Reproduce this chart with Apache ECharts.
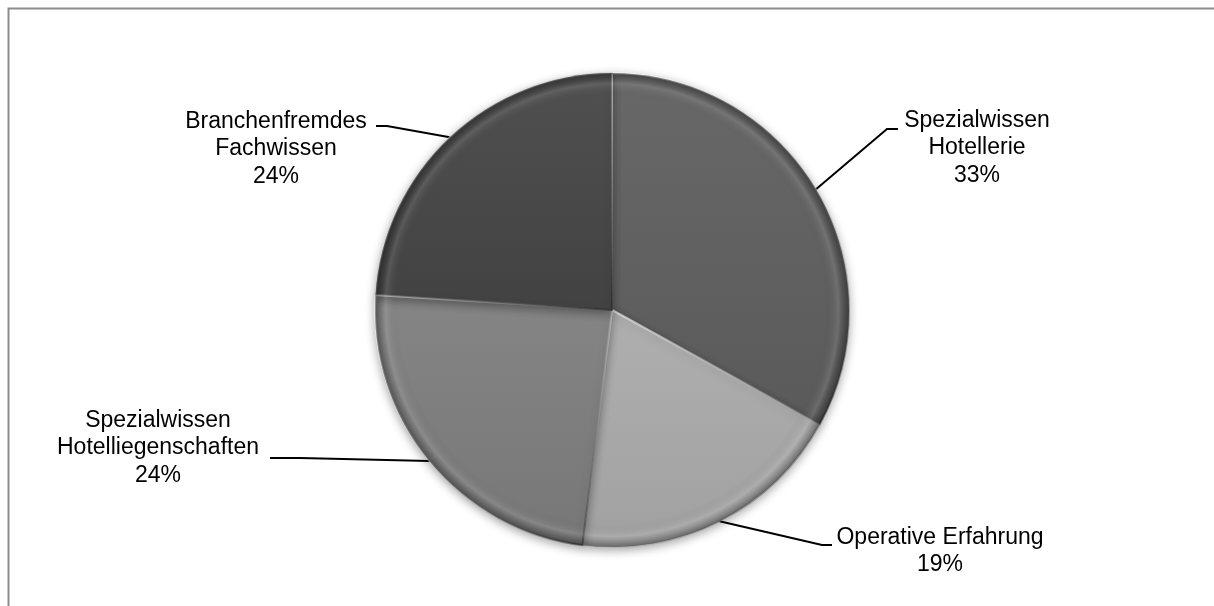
<!DOCTYPE html>
<html>
<head>
<meta charset="utf-8">
<script src="https://cdn.jsdelivr.net/npm/echarts@6/dist/echarts.min.js"></script>
<style>
  html, body { margin: 0; padding: 0; background: #ffffff; }
  #chart { width: 1214px; height: 606px; }
</style>
</head>
<body>
<div id="chart"></div>
<script>
// Slice names (label lines) and shares in percent, clockwise from 12 o'clock
const categories = [
  'Spezialwissen\nHotellerie',
  'Operative Erfahrung',
  'Spezialwissen\nHotelliegenschaften',
  'Branchenfremdes\nFachwissen'
];
const shares = [33, 19, 24, 24];
const sliceColors = ['#626262', '#a9a9a9', '#7f7f7f', '#4a4a4a'];

// Where each label block sits and how its leader line bends
const labelSpots = [
  { x: 977, y: 148, elbow: [887, 129], end: [898, 129] },
  { x: 940, y: 551, elbow: [822, 545], end: [832, 545] },
  { x: 158, y: 448, elbow: [300, 458], end: [270, 458] },
  { x: 276, y: 149, elbow: [387, 126], end: [376, 126] }
];

const CENTER = [612, 310];
const RADIUS = 237;

function shade(hex, amt) {
  const n = parseInt(hex.slice(1), 16);
  const c = [(n >> 16) & 255, (n >> 8) & 255, n & 255].map(v => Math.max(0, Math.min(255, Math.round(v + amt))));
  return 'rgb(' + c.join(',') + ')';
}

const chart = echarts.init(document.getElementById('chart'), null, { renderer: 'canvas' });

const data = categories.map((name, i) => ({
  name: name,
  value: shares[i],
  itemStyle: {
    color: {
      type: 'linear', x: 0, y: 0, x2: 0, y2: 1,
      colorStops: [
        { offset: 0, color: shade(sliceColors[i], 6) },
        { offset: 1, color: shade(sliceColors[i], -8) }
      ]
    },
    borderColor: {
      type: 'linear', x: 0, y: 0, x2: 1, y2: 1,
      colorStops: [
        { offset: 0, color: 'rgba(255,255,255,0.6)' },
        { offset: 0.5, color: 'rgba(190,190,190,0.4)' },
        { offset: 1, color: 'rgba(30,30,30,0.6)' }
      ]
    }
  }
}));

// Same slices again, painted with a rim gradient for the bevelled edge
const rimData = shares.map((v, i) => ({
  name: categories[i],
  value: v,
  itemStyle: {
    color: {
      type: 'radial', x: CENTER[0], y: CENTER[1], r: RADIUS, global: true,
      colorStops: [
        { offset: 0, color: 'rgba(0,0,0,0)' },
        { offset: 0.9, color: 'rgba(0,0,0,0)' },
        { offset: 0.955, color: 'rgba(255,255,255,0.10)' },
        { offset: 0.975, color: 'rgba(0,0,0,0.10)' },
        { offset: 1, color: 'rgba(0,0,0,0.35)' }
      ]
    }
  }
}));

chart.setOption({
  backgroundColor: '#ffffff',
  animation: false,
  graphic: [{
    type: 'rect',
    silent: true,
    shape: { x: 8.5, y: 8.5, width: 1400, height: 800 },
    style: { fill: 'none', stroke: '#8c8c8c', lineWidth: 2 }
  }],
  series: [{
    type: 'pie',
    center: CENTER,
    radius: [0, RADIUS],
    startAngle: 90,
    clockwise: true,
    avoidLabelOverlap: false,
    data: data,
    itemStyle: {
      borderWidth: 2,
      shadowBlur: 10,
      shadowColor: 'rgba(0,0,0,0.35)',
      shadowOffsetX: 0,
      shadowOffsetY: 3
    },
    label: {
      show: true,
      position: 'outside',
      formatter: p => p.name + '\n' + p.value + '%',
      fontFamily: '"Liberation Sans", Arial, sans-serif',
      fontSize: 23,
      lineHeight: 27.5,
      color: '#000000',
      align: 'center'
    },
    labelLine: {
      show: true,
      length: 20,
      length2: 10,
      lineStyle: { color: '#000000', width: 2 }
    },
    labelLayout: function (params) {
      const s = labelSpots[params.dataIndex];
      const start = params.labelLinePoints ? params.labelLinePoints[0] : s.elbow;
      return {
        x: s.x,
        y: s.y,
        align: 'center',
        verticalAlign: 'middle',
        labelLinePoints: [start, s.elbow, s.end]
      };
    },
    emphasis: { disabled: true }
  }, {
    type: 'pie',
    silent: true,
    center: CENTER,
    radius: [0, RADIUS],
    startAngle: 90,
    clockwise: true,
    data: rimData,
    label: { show: false },
    labelLine: { show: false },
    itemStyle: { borderWidth: 0 },
    emphasis: { disabled: true },
    tooltip: { show: false }
  }]
});
</script>
</body>
</html>
